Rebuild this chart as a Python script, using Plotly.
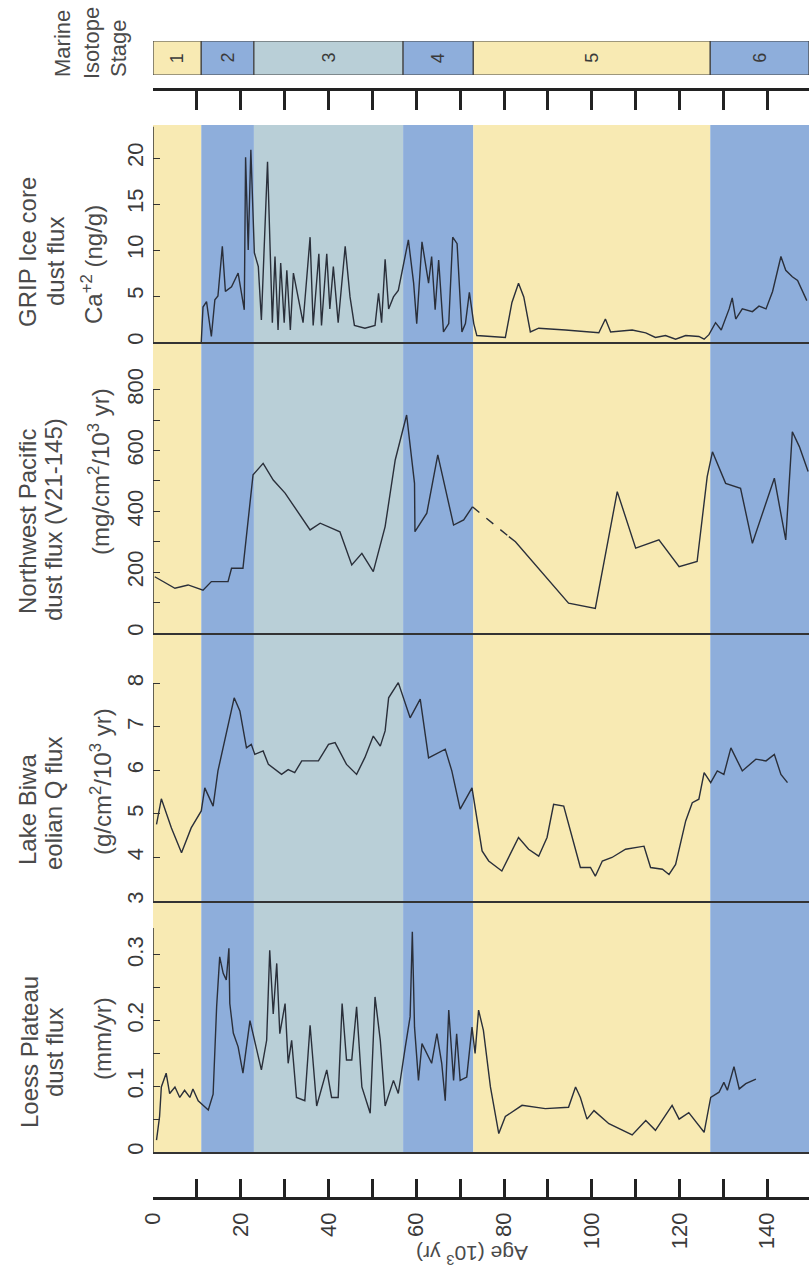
import plotly.graph_objects as go

# ---------------- data ----------------
stage_edges = [0, 11, 23, 57, 73, 127, 149.5]
stage_names = ["1", "2", "3", "4", "5", "6"]

grip_age = [11.0, 11.4, 12.2, 13.3, 14.1, 14.8, 15.8, 16.5, 17.9, 19.4, 20.8, 21.1, 21.7, 22.3, 23.1, 24.0,
            24.7, 25.5, 26.1, 26.7, 27.2, 27.8, 28.5, 29.1, 29.9, 30.5, 31.3, 32.0, 33.1, 34.2, 35.8, 36.5,
            37.8, 38.4, 39.6, 40.3, 41.1, 42.2, 43.8, 44.9, 45.9, 48.3, 50.6, 51.4, 52.1, 52.9, 53.7, 54.8,
            55.9, 58.2, 59.4, 60.1, 61.3, 62.8, 63.5, 64.3, 65.1, 66.2, 67.4, 68.3, 69.3, 70.4, 71.2, 72.1,
            73.1, 73.8, 80.3, 81.8, 83.3, 84.5, 86.0, 87.9, 94.0, 101.6, 103.1, 104.3, 109.2, 112.3, 114.5,
            116.8, 119.1, 121.4, 124.4, 125.6, 126.7, 128.2, 129.5, 131.3, 132.0, 132.8, 134.3, 136.6, 138.1,
            139.7, 141.2, 143.1, 144.2, 145.7, 146.9, 148.0, 149.0]
grip_val = [0.0, 3.8, 4.4, 0.6, 4.6, 5.0, 10.4, 5.5, 6.0, 7.5, 3.5, 20.1, 10.0, 20.9, 9.7, 8.2,
            2.4, 12.2, 19.6, 10.0, 2.1, 9.3, 1.3, 8.6, 2.1, 7.8, 1.3, 7.5, 4.9, 2.1, 11.4, 1.8,
            9.6, 1.8, 9.6, 3.6, 8.2, 2.1, 10.4, 4.9, 1.8, 1.5, 1.8, 5.3, 2.1, 9.0, 3.6, 4.9,
            5.6, 11.1, 6.4, 2.0, 10.9, 6.4, 9.3, 3.5, 8.9, 1.1, 2.0, 11.4, 10.7, 1.1, 2.0, 5.4,
            2.0, 0.7, 0.5, 4.3, 6.4, 4.9, 1.1, 1.5, 1.3, 1.0, 2.5, 1.1, 1.3, 1.0, 0.5,
            0.7, 0.3, 0.7, 0.6, 0.3, 0.8, 2.1, 1.3, 3.6, 4.8, 2.5, 3.6, 3.3, 3.9,
            3.6, 5.5, 9.3, 7.8, 7.1, 6.7, 5.6, 4.5]

nwp_age = [0.4, 5.0, 8.0, 11.4, 13.3, 17.1, 17.9, 20.5, 22.8, 25.1, 27.4, 30.1, 35.8, 38.1, 42.6, 45.3,
           47.6, 50.2, 52.9, 55.2, 57.8, 59.6, 59.7, 62.4, 64.9, 68.5, 70.8, 72.8]
nwp_val = [185, 147, 158, 141, 169, 169, 213, 213, 520, 558, 503, 460, 339, 361, 333, 224,
           262, 202, 350, 569, 717, 492, 333, 394, 586, 355, 372, 415]
nwp_gap_age = [72.8, 81.1]
nwp_gap_val = [415, 317]
nwp2_age = [81.1, 82.6, 94.7, 100.8, 105.8, 110.0, 115.3, 119.9, 124.0, 126.3, 127.5, 130.5, 133.9,
            136.6, 141.6, 144.2, 145.7, 147.3, 149.3]
nwp2_val = [317, 300, 98, 81, 465, 279, 306, 218, 235, 514, 596, 492, 476,
            295, 509, 306, 662, 613, 531]

biwa_age = [0.8, 1.9, 4.2, 6.5, 8.7, 11.0, 11.8, 13.7, 14.8, 17.1, 18.5, 19.8, 21.3, 22.4, 23.2, 25.1,
            26.3, 29.3, 30.8, 32.3, 33.9, 37.7, 40.0, 41.5, 44.1, 46.4, 48.3, 50.2, 51.8, 52.9, 53.7,
            55.9, 58.6, 60.9, 62.8, 66.6, 68.1, 70.0, 72.7, 75.0, 76.5, 79.5, 83.3, 85.6, 87.9, 89.8,
            91.3, 93.6, 95.9, 97.4, 99.7, 100.8, 102.4, 104.6, 107.7, 111.9, 113.4, 116.1, 117.6, 119.1,
            121.4, 122.9, 124.4, 125.6, 127.1, 128.6, 130.1, 131.7, 134.3, 137.4, 139.7, 141.6, 143.1, 144.6]
biwa_val = [4.76, 5.35, 4.68, 4.11, 4.68, 5.07, 5.6, 5.18, 5.99, 7.06, 7.67, 7.37, 6.52, 6.6, 6.37, 6.45,
            6.14, 5.91, 6.02, 5.95, 6.22, 6.22, 6.6, 6.64, 6.14, 5.91, 6.3, 6.79, 6.56, 6.91, 7.67,
            8.02, 7.21, 7.64, 6.29, 6.49, 5.99, 5.11, 5.6, 4.15, 3.92, 3.69, 4.46, 4.19, 4.03, 4.46,
            5.22, 5.18, 4.3, 3.77, 3.77, 3.57, 3.92, 4.0, 4.19, 4.26, 3.77, 3.73, 3.61, 3.84,
            4.84, 5.26, 5.34, 5.95, 5.72, 5.99, 5.91, 6.52, 5.99, 6.26, 6.22, 6.37, 5.91, 5.72]

loess_age = [0.8, 1.5, 1.9, 3.0, 3.8, 5.0, 6.1, 7.2, 8.4, 9.1, 10.3, 12.6, 13.7, 14.5, 15.2, 16.0, 16.7,
             17.3, 17.5, 18.3, 19.4, 20.5, 22.1, 23.2, 24.7, 25.9, 26.6, 27.4, 28.2, 28.9, 30.1, 30.8,
             31.6, 32.7, 34.6, 35.8, 37.3, 39.6, 40.7, 42.2, 43.1, 44.1, 45.3, 46.4, 47.6, 49.5, 50.6,
             51.8, 52.9, 54.8, 55.9, 57.5, 58.6, 59.1, 59.6, 60.5, 61.3, 63.5, 64.7, 65.8, 66.6, 67.4,
             68.5, 69.2, 70.0, 71.5, 72.7, 73.4, 74.2, 75.3, 76.9, 78.8, 80.3, 84.1, 89.4, 94.7, 96.3,
             97.4, 98.9, 100.5, 103.9, 109.2, 112.3, 114.5, 118.3, 119.9, 122.1, 125.6, 127.1, 129.0,
             130.1, 130.9, 132.4, 133.6, 135.1, 137.4]
loess_val = [0.018, 0.054, 0.099, 0.12, 0.089, 0.099, 0.083, 0.094, 0.083, 0.096, 0.078, 0.064, 0.088,
             0.221, 0.297, 0.272, 0.262, 0.31, 0.226, 0.181, 0.16, 0.12, 0.2, 0.17, 0.125, 0.17, 0.307,
             0.21, 0.287, 0.18, 0.226, 0.135, 0.17, 0.083, 0.078, 0.193, 0.07, 0.125, 0.083, 0.083,
             0.226, 0.14, 0.14, 0.221, 0.099, 0.059, 0.236, 0.17, 0.07, 0.109, 0.089, 0.16, 0.206,
             0.335, 0.19, 0.109, 0.165, 0.135, 0.18, 0.135, 0.078, 0.216, 0.109, 0.18, 0.109, 0.114,
             0.19, 0.15, 0.216, 0.185, 0.099, 0.028, 0.054, 0.071, 0.066, 0.068, 0.099, 0.083, 0.05,
             0.063, 0.043, 0.026, 0.048, 0.033, 0.071, 0.05, 0.06, 0.03, 0.083, 0.091, 0.106, 0.094,
             0.13, 0.096, 0.104, 0.111]

age_ticks = [0, 20, 40, 60, 80, 100, 120, 140]

# ---------------- layout helpers ----------------
W, H = 809, 1288
def PX(p): return p / W
def PY(p): return 1 - p / H

YELLOW = "#f8eab3"
BLUE = "#8eaedb"
LIGHT = "#b9cfd7"
stage_colors = [YELLOW, BLUE, LIGHT, BLUE, YELLOW, BLUE]
LINE = "#2a2f3a"
TXT = "#3a3a3a"
LABEL = "#4a4a4a"
FONT = "Liberation Sans, Arial, sans-serif"
XR = [0, 149.5]
XD = [PX(153), 1.0]

fig = go.Figure()

panels = [  # (axis idx, top px, bottom px, range)
    (3, 125, 342, [0, 23.6]),
    (4, 342, 633, [0, 957]),
    (5, 633, 901, [3, 9.16]),
    (6, 901, 1152, [0, 0.382]),
]

line_style = dict(color=LINE, width=1.4)
fig.add_trace(go.Scatter(x=grip_age, y=grip_val, mode="lines", line=line_style, xaxis="x3", yaxis="y3"))
fig.add_trace(go.Scatter(x=nwp_age, y=nwp_val, mode="lines", line=line_style, xaxis="x4", yaxis="y4"))
fig.add_trace(go.Scatter(x=nwp_gap_age, y=nwp_gap_val, mode="lines",
                         line=dict(color=LINE, width=1.4, dash="dash"), xaxis="x4", yaxis="y4"))
fig.add_trace(go.Scatter(x=nwp2_age, y=nwp2_val, mode="lines", line=line_style, xaxis="x4", yaxis="y4"))
fig.add_trace(go.Scatter(x=biwa_age, y=biwa_val, mode="lines", line=line_style, xaxis="x5", yaxis="y5"))
fig.add_trace(go.Scatter(x=loess_age, y=loess_val, mode="lines", line=line_style, xaxis="x6", yaxis="y6"))
for i in (1, 2, 7):
    fig.add_trace(go.Scatter(x=[None], y=[None], xaxis=f"x{i}", yaxis=f"y{i}", showlegend=False))

layout = dict(
    width=W, height=H, margin=dict(l=0, r=0, t=0, b=0, pad=0, autoexpand=False),
    paper_bgcolor="white", plot_bgcolor="rgba(0,0,0,0)", showlegend=False,
    font=dict(family=FONT, color=TXT),
)

hidden_y = dict(visible=False, range=[0, 1], fixedrange=True, automargin=False)
layout["xaxis"] = dict(domain=XD, range=XR, visible=False, automargin=False)
layout["yaxis"] = dict(hidden_y, domain=[PY(75), PY(41)], anchor="x")
layout["xaxis2"] = dict(domain=XD, range=XR, side="top", anchor="y2", showline=True, linecolor="#222",
                        linewidth=2.5, ticks="inside", ticklen=19, tickwidth=2.5, tickcolor="#222",
                        dtick=10, tick0=0, showticklabels=False, showgrid=False, zeroline=False,
                        automargin=False)
layout["yaxis2"] = dict(hidden_y, domain=[PY(110), PY(91)], anchor="x2")
layout["xaxis7"] = dict(domain=XD, range=XR, side="bottom", anchor="y7", showline=True, linecolor="#222",
                        linewidth=2.5, ticks="inside", ticklen=18, tickwidth=2.5, tickcolor="#222",
                        tickvals=age_ticks, tickangle=-90, tickfont=dict(size=22, color=TXT),
                        minor=dict(dtick=10, tick0=0, ticks="inside", ticklen=18, tickwidth=2.5,
                                   tickcolor="#222"),
                        showgrid=False, zeroline=False, automargin=False, ticklabelstandoff=4)
layout["yaxis7"] = dict(hidden_y, domain=[PY(1197), PY(1179)], anchor="x7")

ytick_cfg = {
    3: dict(tickvals=[0, 5, 10, 15, 20], minor=None),
    4: dict(tickvals=[0, 200, 400, 600, 800], minor=[100, 300, 500, 700]),
    5: dict(tickvals=[3, 4, 5, 6, 7, 8], minor=None),
    6: dict(tickvals=[0, 0.1, 0.2, 0.3], minor=[0.05, 0.15, 0.25]),
}
for idx, top, bot, rng in panels:
    layout[f"xaxis{idx}"] = dict(domain=XD, range=XR, anchor=f"y{idx}", showline=True, linecolor="#333",
                                 linewidth=1.5, ticks="", showticklabels=False, showgrid=False,
                                 zeroline=False, automargin=False)
    cfg = ytick_cfg[idx]
    ya = dict(domain=[PY(bot), PY(top)], range=rng, anchor=f"x{idx}", showline=False, showgrid=False,
              zeroline=False, ticks="inside", ticklen=7, tickwidth=1.3, tickcolor="#333",
              tickvals=cfg["tickvals"], tickangle=-90, tickfont=dict(size=22, color=TXT),
              automargin=False, ticklabelstandoff=5)
    if cfg["minor"]:
        ya["minor"] = dict(tickvals=cfg["minor"], ticks="inside", ticklen=7, tickwidth=1.3,
                           tickcolor="#333")
    layout[f"yaxis{idx}"] = ya

fig.update_layout(**layout)

shapes = []
for i in range(len(stage_names)):
    x0, x1 = stage_edges[i], stage_edges[i + 1]
    shapes.append(dict(type="rect", xref="x", yref="y", x0=x0, x1=x1, y0=0, y1=1,
                       fillcolor=stage_colors[i], line=dict(color="#444", width=1.2), layer="below"))
    shapes.append(dict(type="rect", xref="x3", yref="paper", x0=x0, x1=x1, y0=PY(1152), y1=PY(125),
                       fillcolor=stage_colors[i], line=dict(width=0), layer="below"))
spine_tops = {3: 23.4, 4: 800, 5: 8, 6: 0.341}
for idx, top, bot, rng in panels:
    shapes.append(dict(type="line", xref=f"x{idx}", yref=f"y{idx}", x0=0, x1=0, y0=rng[0],
                       y1=spine_tops[idx], line=dict(color="#333", width=1.5)))
fig.update_layout(shapes=shapes)

ann = []
for i, name in enumerate(stage_names):
    ann.append(dict(xref="x", yref="y", x=(stage_edges[i] + stage_edges[i + 1]) / 2, y=0.5, text=name,
                    showarrow=False, textangle=-90, font=dict(size=18, color=TXT)))

def lab(x, y, text, size=24):
    ann.append(dict(xref="paper", yref="paper", x=PX(x), y=PY(y), text=text, showarrow=False,
                    textangle=-90, font=dict(size=size, color=LABEL), xanchor="center",
                    yanchor="middle"))

lab(62, 43, "Marine", 22)
lab(91, 43, "Isotope", 22)
lab(119, 48, "Stage", 22)
lab(28, 252, "GRIP Ice core")
lab(56, 262, "dust flux")
lab(92, 265, "Ca<sup>+2</sup> (ng/g)")
lab(27, 522, "Northwest Pacific")
lab(53, 520, "dust flux (V21-145)")
lab(99, 472, "(mg/cm<sup>2</sup>/10<sup>3</sup> yr)")
lab(27, 810, "Lake Biwa")
lab(53, 804, "eolian Q flux")
lab(101, 782, "(g/cm<sup>2</sup>/10<sup>3</sup> yr)")
lab(29, 1052, "Loess Plateau")
lab(54, 1053, "dust flux")
lab(102, 1038, "(mm/yr)")
ann.append(dict(xref="paper", yref="paper", x=PX(472), y=PY(1270), text="Age (10<sup>3</sup> yr)",
                showarrow=False, textangle=180, font=dict(size=21, color=LABEL)))
fig.update_layout(annotations=ann)

fig.write_html("out.html", config={"displayModeBar": False},
               post_script="document.body.style.margin='0';document.body.style.padding='0';")
